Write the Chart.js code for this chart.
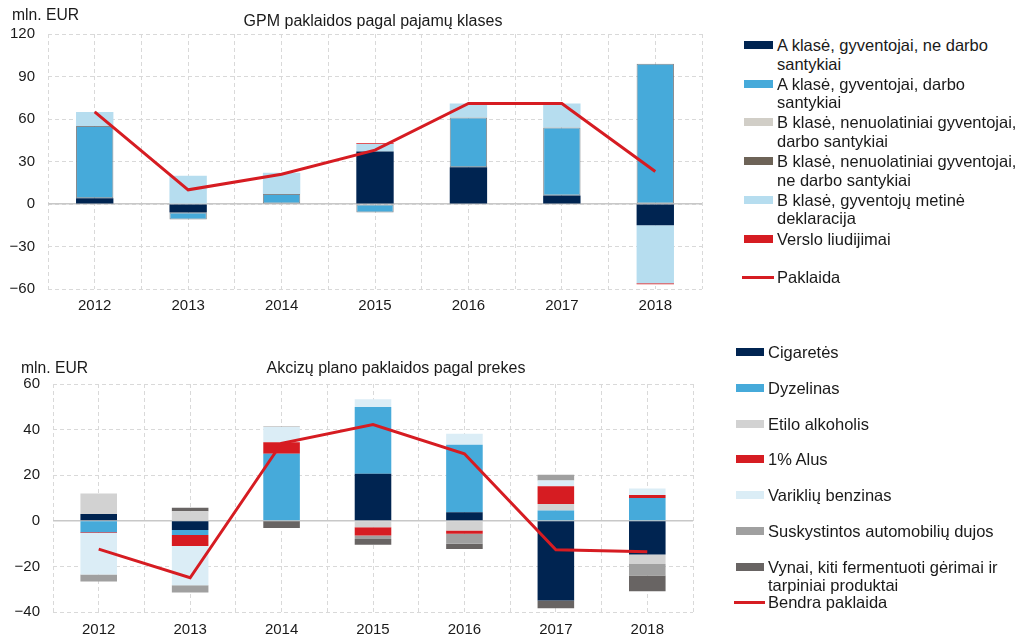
<!DOCTYPE html>
<html>
<head>
<meta charset="utf-8">
<script src="https://cdn.jsdelivr.net/npm/chart.js@4.4.0/dist/chart.umd.min.js"></script>
<style>
body { margin: 0; background: #fff; font-family: "Liberation Sans", Arial, sans-serif; color: #1a1a1a; }
#wrap { position: relative; width: 1032px; height: 641px; overflow: hidden; }
canvas { position: absolute; left: 0; }
.unit { position: absolute; font-size: 15.7px; line-height: 18px; }
.ttl { position: absolute; font-size: 16px; line-height: 18px; white-space: nowrap; transform: translateX(-50%); }
.leg { position: absolute; font-size: 16.5px; line-height: 18.5px; white-space: pre-line; z-index: 2; }
.sw { position: absolute; z-index: 2; }
</style>
</head>
<body>
<div id="wrap">
  <canvas id="topChart" width="747" height="320" style="top:0"></canvas>
  <canvas id="botChart" width="792" height="301" style="top:340px"></canvas>
  <div class="unit" style="left:12px; top:6px">mln. EUR</div>
  <div class="unit" style="left:21px; top:359px">mln. EUR</div>
  <div class="ttl" id="topTitle" style="left:373px; top:12px"></div>
  <div class="ttl" id="botTitle" style="left:396px; top:359px"></div>
  <div id="legends"></div>
</div>
<script>
// years on the x axis, same for both charts
const years = ['2012', '2013', '2014', '2015', '2016', '2017', '2018']

// --- top chart: GPM (income tax) errors by income class, mln. EUR ---
const topTitle = 'GPM paklaidos pagal pajamų klases'
const topTicks = [-60, -30, 0, 30, 60, 90, 120]
const gpmNames = [
  'A klasė, gyventojai, ne darbo\nsantykiai',
  'A klasė, gyventojai, darbo\nsantykiai',
  'B klasė, nenuolatiniai gyventojai,\ndarbo santykiai',
  'B klasė, nenuolatiniai gyventojai,\nne darbo santykiai',
  'B klasė, gyventojų metinė\ndeklaracija',
  'Verslo liudijimai'
]
const gpmColors = ['#002451', '#46aada', '#d1cec7', '#6d6357', '#b6ddef', '#d61c22']
const gpmANeDarbo = [4, -6, 0, 37, 26, 6, -15]
const gpmADarbo = [51, -5, 7, -6, 35, 48, 99]
const gpmBDarbo = [0, 0, 0, 0, 0, 0, 0]
const gpmBNeDarbo = [0, 0, 0, 0, 0, 0, 0]
const gpmBMetine = [10, 20, 15, 5.4, 10, 17, -41]
const gpmVerslo = [0, 0, 0, 0.5, 0, 0, -0.7]
const gpmLineName = 'Paklaida'
const gpmTotal = [65, 10, 21, 38, 71, 71, 23]

// --- bottom chart: excise plan errors by goods, mln. EUR ---
const botTitle = 'Akcizų plano paklaidos pagal prekes'
const botTicks = [-40, -20, 0, 20, 40, 60]
const akcNames = [
  'Cigaretės',
  'Dyzelinas',
  'Etilo alkoholis',
  '1% Alus',
  'Variklių benzinas',
  'Suskystintos automobilių dujos',
  'Vynai, kiti fermentuoti gėrimai ir\ntarpiniai produktai'
]
const akcColors = ['#002451', '#46aada', '#d2d2d2', '#d61c22', '#dbedf6', '#a0a0a0', '#686463']
const akcCigaretes = [3, -4, 0, 20.6, 3.7, -35, -14.8]
const akcDyzelinas = [-5, -2.2, 29.4, 29.3, 29.7, 4.5, 10]
const akcEtilo = [9, 4.2, 0, -2.8, -4.2, 2.9, -4.1]
const akcAlus = [-0.3, -4.8, 5.1, -3.7, -1.5, 7.8, 1.3]
const akcBenzinas = [-18.3, -17.3, 6.6, 3.4, 4.8, 2.5, 2.9]
const akcDujos = [-3, -3.2, 0.3, -1.5, -4.4, 2.5, -5.1]
const akcVynai = [0, 1.5, -3.2, -2.5, -2.3, -3.4, -6.9]
const akcLineName = 'Bendra paklaida'
const akcTotal = [-12.4, -25, 34, 42.2, 29.4, -12.7, -13.6]

const lineColor = '#d61c22'
const gridColor = '#d9d9d9'

Chart.defaults.font.family = '"Liberation Sans", Arial, sans-serif'
Chart.defaults.font.size = 15
Chart.defaults.color = '#1a1a1a'

document.getElementById('topTitle').textContent = topTitle
document.getElementById('botTitle').textContent = botTitle

// builds one stacked bar + line chart
function makeChart(id, o) {
  var datasets = [{
    type: 'line',
    label: o.lineName,
    data: o.total,
    borderColor: lineColor,
    borderWidth: 3,
    pointRadius: 0,
    fill: false,
    stack: 'line',
    order: 0
  }]
  o.series.forEach(function (vals, i) {
    datasets.push({
      type: 'bar',
      label: o.names[i],
      data: vals,
      backgroundColor: o.colors[i],
      borderColor: o.borders ? o.borders[i] : 'rgba(0,0,0,0)',
      borderWidth: o.borders && o.borders[i] ? 1 : 0,
      borderSkipped: false,
      barPercentage: 0.4,
      categoryPercentage: 1,
      stack: 'bars',
      order: 1
    })
  })

  // vertical grid at category centres and borders
  var gridTicks = []
  years.forEach(function (y, i) { gridTicks.push(i - 0.5, i) })
  gridTicks.push(years.length - 0.5)

  var lo = o.ticks[0], hi = o.ticks[o.ticks.length - 1]

  return new Chart(document.getElementById(id), {
    data: { labels: years, datasets: datasets },
    options: {
      responsive: false,
      animation: false,
      layout: { padding: { left: 0, right: o.padRight, top: o.padTop, bottom: 0 } },
      plugins: {
        legend: { display: false },
        tooltip: { enabled: false }
      },
      scales: {
        x: {
          stacked: true,
          grid: { display: false, drawTicks: false },
          border: { display: false },
          ticks: { padding: o.xPad, color: '#1a1a1a', maxRotation: 0 },
          afterFit: function (s) { s.height = o.xHeight }
        },
        xGrid: {
          type: 'linear',
          position: 'bottom',
          min: -0.5,
          max: years.length - 0.5,
          afterBuildTicks: function (s) { s.ticks = gridTicks.map(function (v) { return { value: v } }) },
          afterFit: function (s) { s.height = 0 },
          ticks: { display: false },
          grid: { color: gridColor, drawTicks: false },
          border: { display: false, dash: [4, 3] }
        },
        y: {
          stacked: true,
          min: lo,
          max: hi,
          afterBuildTicks: function (s) { s.ticks = o.ticks.map(function (v) { return { value: v } }) },
          afterFit: function (s) { s.width = o.yWidth },
          grid: { color: gridColor, drawTicks: false },
          border: { display: false, dash: [4, 3] },
          ticks: {
            padding: 13,
            color: '#1a1a1a',
            callback: function (v) { return String(v).replace('-', '\u2212') }
          }
        },
        yZero: {
          type: 'linear',
          position: 'left',
          min: lo,
          max: hi,
          afterBuildTicks: function (s) { s.ticks = [{ value: 0 }] },
          afterFit: function (s) { s.width = 0 },
          ticks: { display: false },
          grid: { color: '#c8c8c8', lineWidth: 1.5, drawTicks: false },
          border: { display: false }
        }
      }
    }
  })
}

makeChart('topChart', {
  ticks: topTicks,
  names: gpmNames,
  colors: gpmColors,
  borders: [null, 'rgba(110,115,120,0.85)', null, null, null, null],
  series: [gpmANeDarbo, gpmADarbo, gpmBDarbo, gpmBNeDarbo, gpmBMetine, gpmVerslo],
  lineName: gpmLineName,
  total: gpmTotal,
  padRight: 45,
  padTop: 34,
  yWidth: 48,
  xHeight: 31,
  xPad: 8
})

makeChart('botChart', {
  ticks: botTicks,
  names: akcNames,
  colors: akcColors,
  series: [akcCigaretes, akcDyzelinas, akcEtilo, akcAlus, akcBenzinas, akcDujos, akcVynai],
  lineName: akcLineName,
  total: akcTotal,
  padRight: 99,
  padTop: 44,
  yWidth: 53,
  xHeight: 29,
  xPad: 9
})

// html legends (labels wrap over two lines like the original)
function addLegend(names, colors, lineName, x0, swW, textX, top0, step) {
  var box = document.getElementById('legends')
  function item(i, text) {
    var t = top0 + i * step
    var d = document.createElement('div')
    d.className = 'leg'
    d.style.left = textX + 'px'
    d.style.top = t + 'px'
    d.textContent = text
    box.appendChild(d)
    return t
  }
  names.forEach(function (n, i) {
    var t = item(i, n)
    var s = document.createElement('div')
    s.className = 'sw'
    s.style.left = x0 + 'px'
    s.style.top = (t + 5) + 'px'
    s.style.width = swW + 'px'
    s.style.height = '8px'
    s.style.background = colors[i]
    box.appendChild(s)
  })
  var t = item(names.length, lineName)
  var l = document.createElement('div')
  l.className = 'sw'
  l.style.left = (x0 - 2) + 'px'
  l.style.top = (t + 8) + 'px'
  l.style.width = (swW + 3) + 'px'
  l.style.height = '3px'
  l.style.background = lineColor
  box.appendChild(l)
}

addLegend(gpmNames, gpmColors, gpmLineName, 744, 29, 777, 36, 38.7)
addLegend(akcNames, akcColors, akcLineName, 736, 28, 768, 343, 35.77)
</script>
</body>
</html>
